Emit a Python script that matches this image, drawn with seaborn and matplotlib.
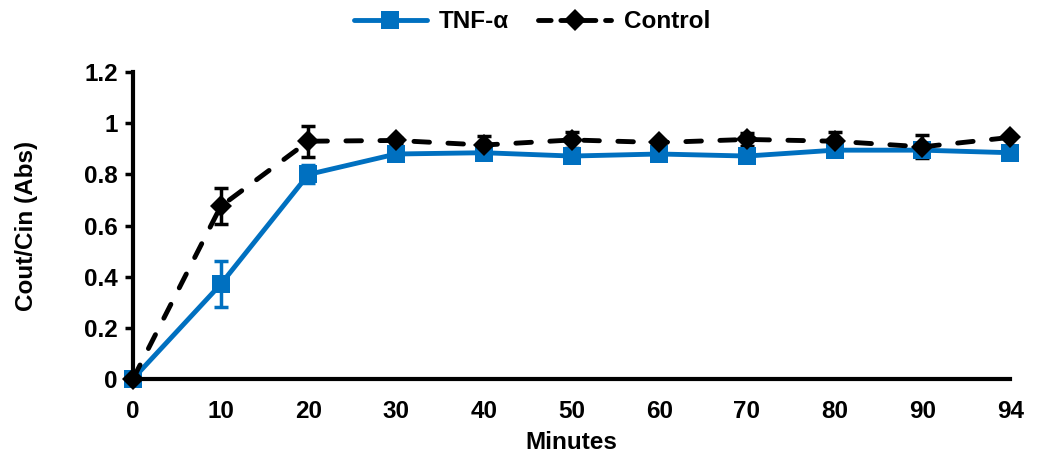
import numpy as np
import pandas as pd
import matplotlib
matplotlib.use("Agg")
import matplotlib.pyplot as plt
import seaborn as sns

# values
minutes = [0, 10, 20, 30, 40, 50, 60, 70, 80, 90, 94]
tnf_mean = [0.0, 0.37, 0.80, 0.88, 0.885, 0.872, 0.88, 0.872, 0.895, 0.895, 0.885]
tnf_err = [0.0, 0.09, 0.035, 0.01, 0.01, 0.01, 0.01, 0.01, 0.01, 0.01, 0.01]
ctrl_mean = [0.0, 0.675, 0.93, 0.933, 0.915, 0.935, 0.925, 0.937, 0.93, 0.908, 0.945]
ctrl_err = [0.0, 0.07, 0.06, 0.01, 0.035, 0.03, 0.01, 0.025, 0.035, 0.045, 0.0]

sns.set_theme(style="white")
plt.rcParams['font.family'] = ['Liberation Sans', 'DejaVu Sans']
plt.rcParams.update({
    'font.weight': 'bold',
    'text.color': 'black',
    'axes.labelcolor': 'black',
    'xtick.color': 'black',
    'ytick.color': 'black',
})

blue = '#0070C0'
fs = 17.5
pos = np.arange(len(minutes))
df = pd.DataFrame({
    'pos': np.concatenate([pos, pos]),
    'value': tnf_mean + ctrl_mean,
    'series': ['TNF-α'] * len(minutes) + ['Control'] * len(minutes),
})

fig = plt.figure(figsize=(10.43, 4.66), dpi=100)
ax = fig.add_axes([0.1275, 0.187, 0.841, 0.658])

# error bars first so markers sit on top
ax.errorbar(pos, tnf_mean, yerr=tnf_err, fmt='none', ecolor=blue, elinewidth=2.5,
            capsize=5, capthick=2.5, clip_on=False, zorder=2)
ax.errorbar(pos, ctrl_mean, yerr=ctrl_err, fmt='none', ecolor='black', elinewidth=2.5,
            capsize=5, capthick=2.5, clip_on=False, zorder=3)

sns.lineplot(data=df, x='pos', y='value', hue='series', style='series',
             palette={'TNF-α': blue, 'Control': 'black'},
             dashes={'TNF-α': '', 'Control': (3.2, 3.8)},
             markers={'TNF-α': 's', 'Control': 'D'},
             ax=ax, linewidth=3.5, markeredgewidth=0, legend=False, zorder=4)
for ln, ms in zip(ax.lines[-2:], [13, 11]):
    ln.set_markersize(ms)
    ln.set_clip_on(False)
    ln.set_dash_capstyle('round')

ax.set_xlim(0, len(minutes) - 1)
ax.set_ylim(0, 1.2)
ax.set_xticks(pos)
ax.set_xticklabels([str(m) for m in minutes])
ax.set_yticks([0, 0.2, 0.4, 0.6, 0.8, 1.0, 1.2])
ax.set_yticklabels(['0', '0.2', '0.4', '0.6', '0.8', '1', '1.2'])
ax.tick_params(axis='y', left=True, length=6, width=2.5, direction='out', labelsize=fs, pad=5)
ax.tick_params(axis='x', bottom=False, labelsize=fs, pad=9)
for lab in ax.get_xticklabels() + ax.get_yticklabels():
    lab.set_fontweight('bold')

for side in ['top', 'right']:
    ax.spines[side].set_visible(False)
for side in ['left', 'bottom']:
    ax.spines[side].set_color('black')
    ax.spines[side].set_linewidth(3)

ax.set_xlabel('Minutes', fontsize=fs, fontweight='bold', labelpad=6)
ax.set_ylabel('Cout/Cin (Abs)', fontsize=fs, fontweight='bold', labelpad=33)

h1 = plt.Line2D([], [], color=blue, lw=3.5, marker='s', markersize=13, markeredgewidth=0)
h2 = plt.Line2D([], [], color='black', lw=3.5, marker='D', markersize=11, markeredgewidth=0,
                dashes=(2.6, 2), dash_capstyle='round')
fig.legend([h1, h2], ['TNF-α', 'Control'], loc='upper center', bbox_to_anchor=(0.51, 1.025),
           ncol=2, frameon=False, handlelength=3.0, columnspacing=1.2, handletextpad=0.5,
           prop={'size': fs, 'weight': 'bold'})

fig.savefig('out.png', dpi=100)
